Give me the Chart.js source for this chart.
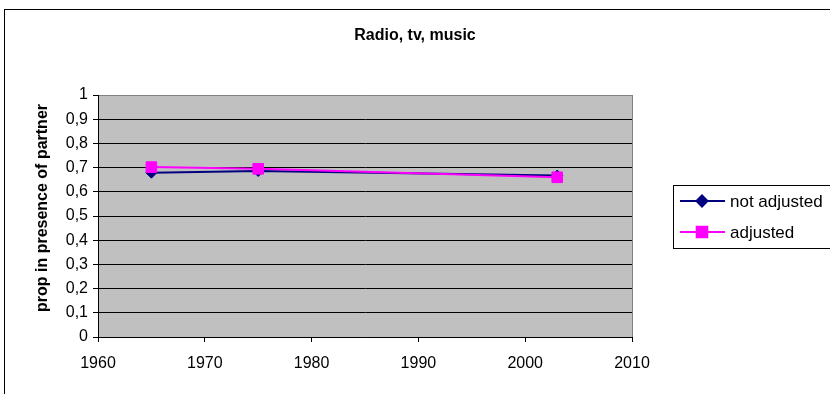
<!DOCTYPE html>
<html>
<head>
<meta charset="utf-8">
<script src="https://cdn.jsdelivr.net/npm/chart.js@4"></script>
<style>
  html, body { margin: 0; padding: 0; background: #fff; }
  #wrap { width: 830px; height: 394px; }
</style>
</head>
<body>
<div id="wrap"><canvas id="chart" width="830" height="394"></canvas></div>
<script>
// Data
const years = [1965, 1975, 2003];
const notAdjusted = [0.679, 0.686, 0.667];
const adjusted = [0.702, 0.695, 0.660];
const seriesNames = ['not adjusted', 'adjusted'];
const chartTitle = 'Radio, tv, music';
const yTitle = 'prop in presence of partner';

const FONT = "'Liberation Sans', Arial, sans-serif";

// Frame, plot background, titles and legend box (Excel look)
const excelLook = {
    id: 'excelLook',
    beforeDraw(chart) {
        const { ctx, chartArea: a } = chart;
        ctx.save();
        ctx.fillStyle = '#ffffff';
        ctx.fillRect(0, 0, chart.width, chart.height);
        // outer frame
        ctx.strokeStyle = '#000000';
        ctx.lineWidth = 1;
        ctx.strokeRect(4.5, 9.5, 1000, 1000);
        // plot area
        ctx.fillStyle = '#c0c0c0';
        ctx.fillRect(a.left, a.top, a.right - a.left, a.bottom - a.top);
        ctx.restore();
    },
    afterDraw(chart) {
        const { ctx, chartArea: a } = chart;
        ctx.save();
        // grey plot border on the right
        ctx.strokeStyle = '#808080';
        ctx.lineWidth = 1;
        ctx.beginPath();
        ctx.moveTo(Math.round(a.right) + 0.5, a.top);
        ctx.lineTo(Math.round(a.right) + 0.5, a.bottom);
        ctx.stroke();

        // chart title
        ctx.fillStyle = '#000';
        ctx.font = 'bold 16px ' + FONT;
        ctx.textAlign = 'center';
        ctx.textBaseline = 'middle';
        ctx.fillText(chartTitle, 415, 36);

        // y axis title
        ctx.save();
        ctx.translate(43, 208);
        ctx.rotate(-Math.PI / 2);
        ctx.fillText(yTitle, 0, 0);
        ctx.restore();

        // legend
        ctx.strokeStyle = '#000';
        ctx.strokeRect(673.5, 185.5, 300, 63);
        ctx.font = '17px ' + FONT;
        ctx.textAlign = 'left';
        const rows = [201, 232];
        chart.data.datasets.forEach((ds, i) => {
            const y = rows[i];
            ctx.strokeStyle = ds.borderColor;
            ctx.lineWidth = 2;
            ctx.beginPath();
            ctx.moveTo(680, y);
            ctx.lineTo(725, y);
            ctx.stroke();
            Chart.helpers.drawPoint(ctx, {
                pointStyle: ds.pointStyle,
                radius: ds.pointRadius,
                borderWidth: 1,
                rotation: 0
            }, 702, y);
            ctx.fillStyle = ds.backgroundColor;
            ctx.strokeStyle = ds.borderColor;
            ctx.fill();
            ctx.fillStyle = '#000';
            ctx.fillText(ds.label, 730, y + 1);
        });
        ctx.restore();
    }
};

new Chart(document.getElementById('chart'), {
    type: 'line',
    data: {
        datasets: [{
            label: seriesNames[0],
            data: years.map((x, i) => ({ x, y: notAdjusted[i] })),
            borderColor: '#000080',
            backgroundColor: '#000080',
            borderWidth: 2,
            pointStyle: 'rectRot',
            pointRadius: 5.5,
            pointBorderWidth: 1,
            order: 1
        }, {
            label: seriesNames[1],
            data: years.map((x, i) => ({ x, y: adjusted[i] })),
            borderColor: '#ff00ff',
            backgroundColor: '#ff00ff',
            borderWidth: 2,
            pointStyle: 'rect',
            pointRadius: 7.5,
            pointBorderWidth: 1,
            order: 0
        }]
    },
    options: {
        responsive: false,
        animation: false,
        layout: {
            padding: { top: 95, right: 198, left: 0, bottom: 0 }
        },
        plugins: {
            legend: { display: false },
            title: { display: false },
            tooltip: { enabled: false }
        },
        scales: {
            x: {
                type: 'linear',
                min: 1960,
                max: 2010,
                afterFit(scale) { scale.height = 57; },
                ticks: {
                    stepSize: 10,
                    color: '#000',
                    padding: 12,
                    maxRotation: 0,
                    font: { family: FONT, size: 16 },
                    callback: v => String(v)
                },
                grid: {
                    drawOnChartArea: false,
                    drawTicks: true,
                    tickLength: 5,
                    tickColor: '#000'
                },
                border: { color: '#000', width: 1 }
            },
            y: {
                min: 0,
                max: 1,
                afterFit(scale) { scale.width = 98; },
                ticks: {
                    stepSize: 0.1,
                    color: '#000',
                    padding: 5,
                    font: { family: FONT, size: 16 },
                    callback: v => String(Math.round(v * 10) / 10).replace('.', ',')
                },
                grid: {
                    color: ctx => (ctx.tick && ctx.tick.value === 1 ? '#808080' : '#000'),
                    tickColor: '#000',
                    tickLength: 5,
                    lineWidth: 1
                },
                border: { color: '#000', width: 1 }
            }
        }
    },
    plugins: [excelLook]
});
</script>
</body>
</html>
